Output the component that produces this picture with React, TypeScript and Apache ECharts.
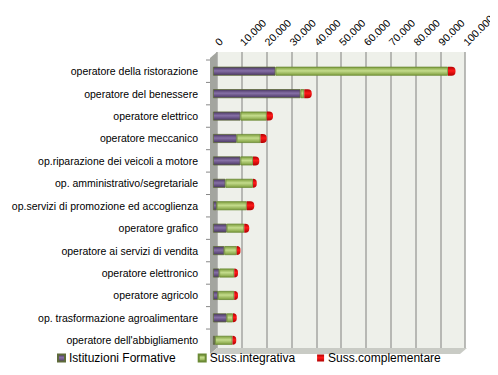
import React, { useEffect, useRef } from "react";
import * as echarts from "echarts";

const categories = [
  "operatore della ristorazione",
  "operatore del benessere",
  "operatore elettrico",
  "operatore meccanico",
  "op.riparazione dei veicoli a motore",
  "op. amministrativo/segretariale",
  "op.servizi di promozione ed accoglienza",
  "operatore grafico",
  "operatore ai servizi di vendita",
  "operatore elettronico",
  "operatore agricolo",
  "op. trasformazione agroalimentare",
  "operatore dell'abbigliamento",
];
const istituzioniFormative = [25000, 35000, 11000, 9500, 11000, 5000, 1500, 5500, 4500, 2500, 2000, 5500, 800];
const sussIntegrativa = [69000, 1500, 10500, 9500, 5000, 11000, 12000, 7000, 5000, 6000, 6500, 2500, 7000];
const sussComplementare = [3000, 3000, 2500, 2500, 2500, 1500, 3000, 2000, 1500, 1500, 1500, 1500, 1500];
const seriesNames = ["Istituzioni Formative", "Suss.integrativa", "Suss.complementare"];
const axisMax = 100000;
const axisStep = 10000;

const fmt = (v: number) => String(v).replace(/\B(?=(\d{3})+(?!\d))/g, ".");

const cyl = (dark: string, light: string) =>
  new echarts.graphic.LinearGradient(0, 0, 0, 1, [
    { offset: 0, color: dark },
    { offset: 0.45, color: light },
    { offset: 1, color: dark },
  ]);

export default function App() {
  const ref = useRef<HTMLDivElement>(null);
  useEffect(() => {
    if (!ref.current) return;
    const chart = echarts.init(ref.current, undefined, { renderer: "svg" });
    const font = "'Liberation Sans', Arial, sans-serif";
    chart.setOption({
      animation: false,
      textStyle: { fontFamily: font },
      grid: [
        { left: 217, width: 250, top: 52, height: 296, show: true, backgroundColor: "#EEF0EA", borderWidth: 0 },
        { left: 213, width: 250, top: 60, height: 291.5 },
      ],
      xAxis: [
        {
          gridIndex: 0,
          type: "value",
          position: "top",
          min: 0,
          max: axisMax,
          interval: axisStep,
          axisLine: { show: false },
          axisTick: { show: false },
          splitLine: { show: true, lineStyle: { color: "#A4A6A2", width: 1.5 } },
          axisLabel: {
            rotate: -45,
            margin: 8,
            fontSize: 10.5,
            color: "#000",
            fontFamily: font,
            formatter: (v: number) => fmt(v),
          },
        },
        {
          gridIndex: 1,
          type: "value",
          min: 0,
          max: axisMax,
          show: false,
        },
      ],
      yAxis: [
        { gridIndex: 0, type: "category", data: categories, inverse: true, show: false },
        {
          gridIndex: 1,
          type: "category",
          data: categories,
          inverse: true,
          axisLine: { show: false },
          axisTick: { show: false },
          axisLabel: { fontSize: 10.5, color: "#000", margin: 15, fontFamily: font },
        },
      ],
      legend: {
        left: 52,
        top: 347,
        itemWidth: 7,
        itemHeight: 7,
        itemGap: 22,
        icon: "rect",
        textStyle: { fontSize: 12, color: "#000", fontFamily: font, padding: [0, 0, 0, -1] },
        data: seriesNames,
      },
      graphic: [
        { type: "polygon", shape: { points: [[210, 58], [217, 52], [217, 348], [210, 354]] }, style: { fill: "#A3A59F" } },
        { type: "polygon", shape: { points: [[210, 354], [217, 348], [467, 348], [460, 354]] }, style: { fill: "#C9CBC5" } },
        { type: "line", shape: { x1: 491, y1: 0, x2: 491, y2: 375 }, style: { stroke: "#8E8E8E", lineWidth: 1 } },
        ...categories.map((_, i) => ({
          type: "line",
          shape: { x1: 206, y1: 60 + i * 22.42, x2: 210, y2: 60 + i * 22.42 },
          style: { stroke: "#888", lineWidth: 1 },
        })),
      ],
      series: [
        {
          name: seriesNames[0],
          type: "bar",
          stack: "s",
          xAxisIndex: 1,
          yAxisIndex: 1,
          barWidth: 9,
          data: istituzioniFormative,
          itemStyle: { color: cyl("#4A3763", "#8670A6"), borderColor: "#5E6B3A", borderWidth: 0.8 },
        },
        {
          name: seriesNames[1],
          type: "bar",
          stack: "s",
          xAxisIndex: 1,
          yAxisIndex: 1,
          barWidth: 9,
          data: sussIntegrativa,
          itemStyle: { color: cyl("#7E9E3E", "#C4DC8C"), borderColor: "#6B8A35", borderWidth: 0.8 },
        },
        {
          name: seriesNames[2],
          type: "bar",
          stack: "s",
          xAxisIndex: 1,
          yAxisIndex: 1,
          barWidth: 9,
          data: sussComplementare,
          itemStyle: { color: cyl("#B00000", "#FF1A1A"), borderRadius: [0, 4, 4, 0] },
        },
      ],
    });
    return () => chart.dispose();
  }, []);
  return <div ref={ref} style={{ width: 498, height: 375, marginLeft: -8, marginTop: -8 }} />;
}
